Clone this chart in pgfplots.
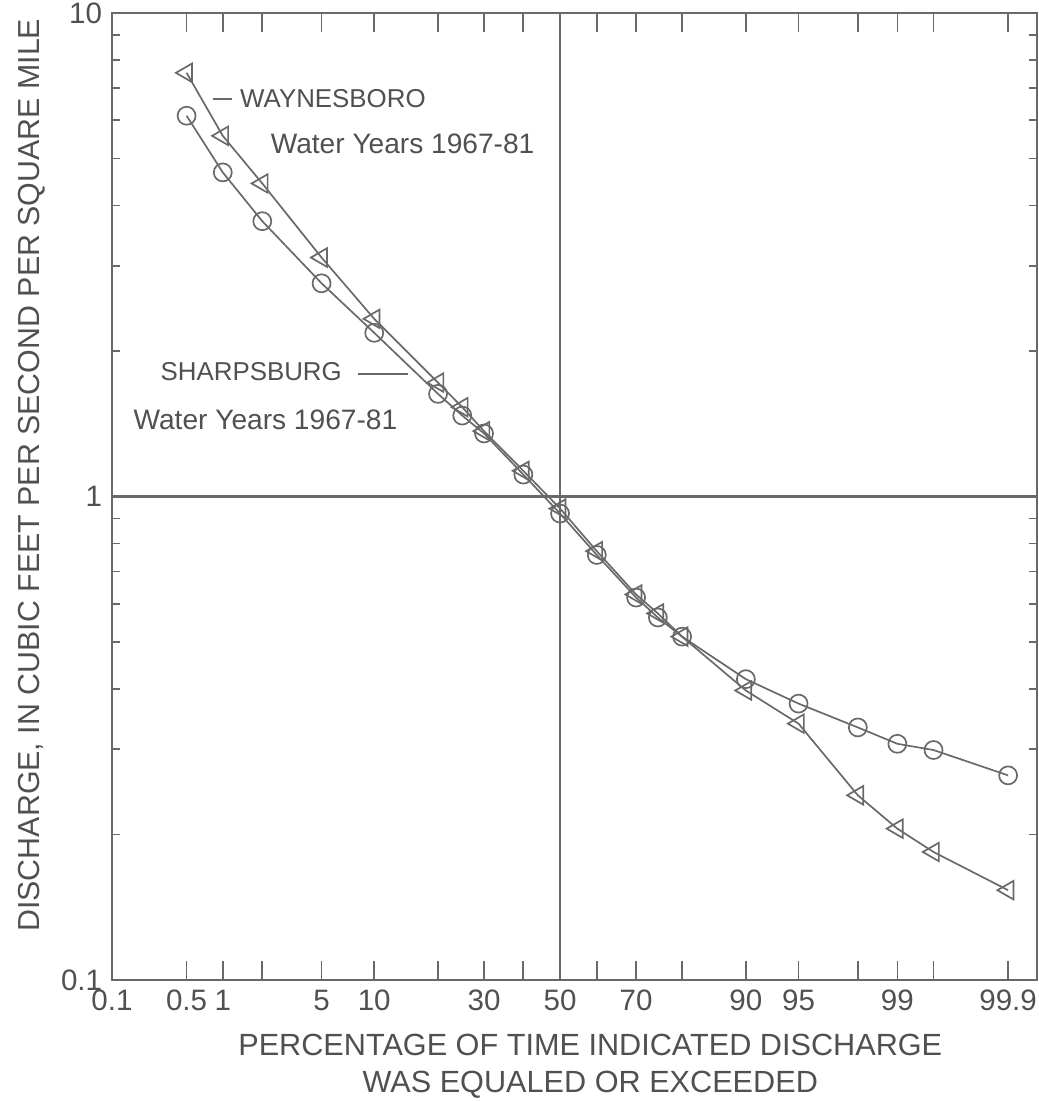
\documentclass[border=0pt]{standalone}
\usepackage{pgfplots}
\pgfplotsset{compat=1.18}
\usepackage{pgfplotstable}
\usepackage{fontspec}
\setmainfont{Liberation Sans}

\definecolor{ink}{RGB}{80,80,80}
\definecolor{linegray}{RGB}{105,105,105}

% p = percent of time exceeded, z = normal score of p (probability axis), q = discharge
\pgfplotstableread{
p    z       q
0.5  -2.5758 7.52
1    -2.3263 5.57
2    -2.0537 4.44
5    -1.6449 3.12
10   -1.2816 2.33
20   -0.8416 1.72
25   -0.6745 1.53
30   -0.5244 1.365
40   -0.2533 1.13
50    0.0000 0.944
60    0.2533 0.771
70    0.5244 0.627
75    0.6745 0.573
80    0.8416 0.513
90    1.2816 0.397
95    1.6449 0.339
98    2.0537 0.241
99    2.3263 0.2056
99.5  2.5758 0.184
99.9  3.0902 0.1534
}\waynesboro

\pgfplotstableread{
p    z       q
0.5  -2.5758 6.13
1    -2.3263 4.68
2    -2.0537 3.71
5    -1.6449 2.76
10   -1.2816 2.18
20   -0.8416 1.63
25   -0.6745 1.47
30   -0.5244 1.35
40   -0.2533 1.11
50    0.0000 0.922
60    0.2533 0.757
70    0.5244 0.618
75    0.6745 0.562
80    0.8416 0.513
90    1.2816 0.419
95    1.6449 0.373
98    2.0537 0.333
99    2.3263 0.308
99.5  2.5758 0.299
99.9  3.0902 0.265
}\sharpsburg

\begin{document}
\begin{tikzpicture}
\begin{axis}[
    scale only axis,
    width=11.5625cm, height=12.0875cm,
    xmin=-3.0902, xmax=3.29,
    ymode=log, ymin=0.1, ymax=10,
    axis line style={linegray, line width=0.7pt},
    xtick={-3.0902,-2.5758,-2.3263,-1.6449,-1.2816,-0.5244,0,0.5244,1.2816,1.6449,2.3263,3.0902},
    xticklabels={0.1,0.5,1,5,10,30,50,70,90,95,99,99.9},
    extra x ticks={-2.0537,-0.8416,-0.2533,0.2533,0.8416,2.0537,2.5758},
    extra x tick labels={},
    ytick={0.1,1,10}, yticklabels={0.1,1,10},
    minor ytick={0.2,0.3,0.4,0.5,0.6,0.7,0.8,0.9,2,3,4,5,6,7,8,9},
    tick align=inside, tick pos=both,
    major tick length=0.24cm, minor tick length=0.1cm,
    tick style={linegray, line width=0.6pt},
    /pgf/number format/assume math mode=true,
    tick label style={font=\fontsize{10.5}{12}\selectfont, text=ink},
    xlabel={PERCENTAGE OF TIME INDICATED DISCHARGE\\WAS EQUALED OR EXCEEDED},
    xlabel style={at={(axis description cs:0.517,-0.046)}, anchor=north, align=center,
        font=\fontsize{10.9}{13.2}\selectfont, text=ink},
    ylabel={DISCHARGE, IN CUBIC FEET PER SECOND PER SQUARE MILE},
    ylabel style={at={(axis description cs:-0.1124,0.522)}, anchor=north,
        font=\fontsize{10.8}{12}\selectfont, text=ink},
  ]
\draw[linegray, line width=0.7pt] (axis cs:0,0.1) -- (axis cs:0,10);
\draw[linegray, line width=1pt] (axis cs:-3.0902,1) -- (axis cs:3.29,1);

\addplot[linegray, line width=0.6pt, mark=triangle, mark size=3.8pt,
    mark options={rotate=90, fill=white, solid}] table[x=z, y=q] {\waynesboro};
\addplot[linegray, line width=0.6pt, mark=o, mark size=3.2pt,
    mark options={fill=white, solid}] table[x=z, y=q] {\sharpsburg};

\draw[linegray, line width=0.6pt] (rel axis cs:0.109,0.911) -- (rel axis cs:0.130,0.911);
\node[anchor=west, text=ink, font=\fontsize{9.2}{10}\selectfont, inner sep=0pt]
    at (rel axis cs:0.138,0.911) {WAYNESBORO};
\node[anchor=west, text=ink, font=\fontsize{10}{11}\selectfont, inner sep=0pt]
    at (rel axis cs:0.171,0.8645) {Water Years 1967-81};
\node[anchor=west, text=ink, font=\fontsize{9.2}{10}\selectfont, inner sep=0pt]
    at (rel axis cs:0.052,0.629) {SHARPSBURG};
\draw[linegray, line width=0.6pt] (rel axis cs:0.266,0.627) -- (rel axis cs:0.320,0.627);
\node[anchor=west, text=ink, font=\fontsize{10}{11}\selectfont, inner sep=0pt]
    at (rel axis cs:0.0227,0.579) {Water Years 1967-81};

\coordinate (bbsw) at (rel axis cs:-0.1211,-0.1251);
\coordinate (bbne) at (rel axis cs:1.0011,1.0134);
\end{axis}
\pgfresetboundingbox
\path[use as bounding box] (bbsw) rectangle (bbne);
\end{tikzpicture}
\end{document}
